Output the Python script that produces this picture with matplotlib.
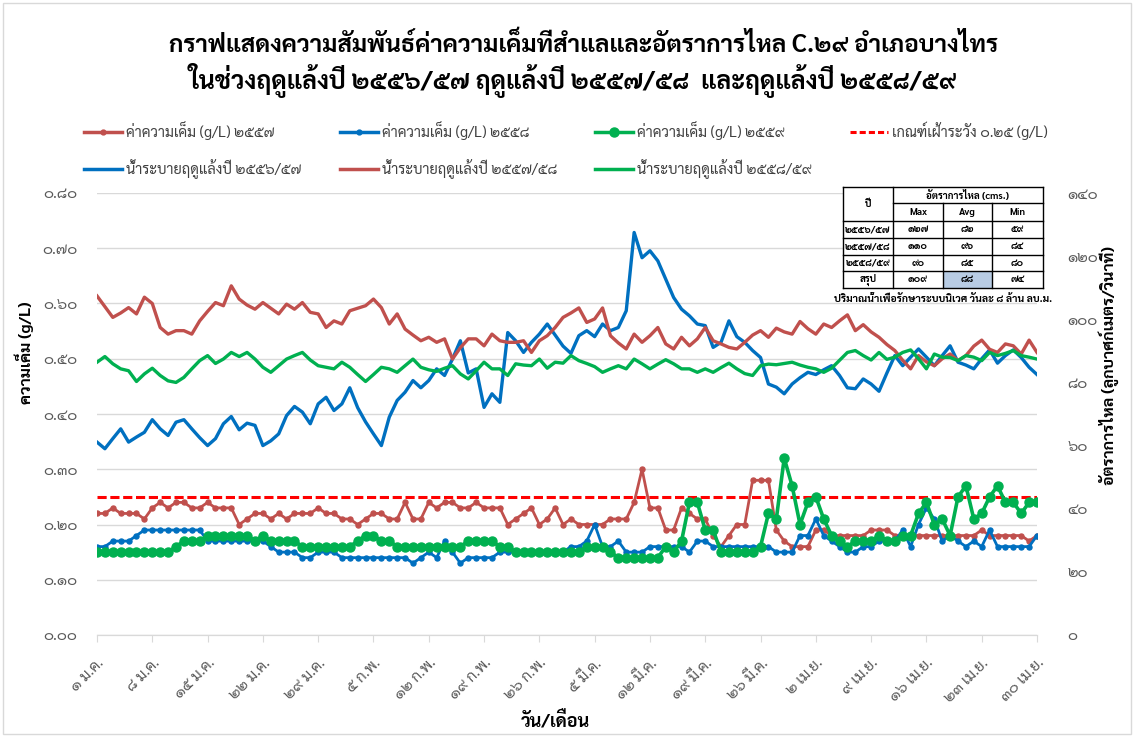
import numpy as np
import matplotlib
matplotlib.use('Agg')
import matplotlib.pyplot as plt
from matplotlib import font_manager as fm
from matplotlib.patches import Rectangle
from matplotlib.lines import Line2D

# ---------------- fonts: look for an installed font with Thai glyphs ----------------
def find_thai_family():
    try:
        from fontTools.ttLib import TTFont
    except Exception:
        return None
    fams = {}
    for f in fm.findSystemFonts():
        try:
            tt = TTFont(f, fontNumber=0, lazy=True)
            cmap = tt.getBestCmap()
            if cmap and ord('ก') in cmap and ord('๑') in cmap:
                fm.fontManager.addfont(f)
                name = fm.FontProperties(fname=f).get_name()
                fams.setdefault(name, []).append(f)
        except Exception:
            pass
    if not fams:
        return None
    prefs = ['Sarabun', 'Noto Sans Thai', 'Loma', 'Garuda', 'Waree', 'Tlwg', 'Kinnari', 'Norasi', 'Thai']
    for p in prefs:
        for n in fams:
            if p.lower() in n.lower():
                return n
    return sorted(fams)[0]

thai = find_thai_family()
fam = ([thai] if thai else []) + ['DejaVu Sans']
plt.rcParams['font.family'] = fam

TH = str.maketrans('0123456789', '๐๑๒๓๔๕๖๗๘๙')
def th(s):
    return str(s).translate(TH)

# ---------------- data ----------------
days = np.arange(120)  # 1 Jan .. 30 Apr
tick_days = list(range(0, 120, 7))
tick_labels = ['๑ ม.ค.', '๘ ม.ค.', '๑๕ ม.ค.', '๒๒ ม.ค.', '๒๙ ม.ค.', '๕ ก.พ.', '๑๒ ก.พ.',
               '๑๙ ก.พ.', '๒๖ ก.พ.', '๕ มี.ค.', '๑๒ มี.ค.', '๑๙ มี.ค.', '๒๖ มี.ค.',
               '๒ เม.ย.', '๙ เม.ย.', '๑๖ เม.ย.', '๒๓ เม.ย.', '๓๐ เม.ย.']

sal_2557 = [0.22, 0.22, 0.23, 0.22, 0.22, 0.22, 0.21, 0.23, 0.24, 0.23,
            0.24, 0.24, 0.23, 0.23, 0.24, 0.23, 0.23, 0.23, 0.20, 0.21,
            0.22, 0.22, 0.21, 0.22, 0.21, 0.22, 0.22, 0.22, 0.23, 0.22,
            0.22, 0.21, 0.21, 0.20, 0.21, 0.22, 0.22, 0.21, 0.21, 0.24,
            0.21, 0.21, 0.24, 0.23, 0.24, 0.24, 0.23, 0.23, 0.24, 0.23,
            0.23, 0.23, 0.20, 0.21, 0.22, 0.23, 0.20, 0.21, 0.23, 0.20,
            0.21, 0.20, 0.20, 0.20, 0.20, 0.21, 0.21, 0.21, 0.24, 0.30,
            0.23, 0.23, 0.19, 0.19, 0.23, 0.22, 0.21, 0.21, 0.18, 0.16,
            0.18, 0.20, 0.20, 0.28, 0.28, 0.28, 0.19, 0.17, 0.16, 0.16,
            0.16, 0.19, 0.19, 0.18, 0.18, 0.18, 0.18, 0.18, 0.19, 0.19,
            0.19, 0.18, 0.18, 0.18, 0.18, 0.18, 0.18, 0.18, 0.18, 0.18,
            0.18, 0.18, 0.19, 0.18, 0.18, 0.18, 0.18, 0.18, 0.17, 0.18]

sal_2558 = [0.16, 0.16, 0.17, 0.17, 0.17, 0.18, 0.19, 0.19, 0.19, 0.19,
            0.19, 0.19, 0.19, 0.19, 0.17, 0.17, 0.17, 0.17, 0.17, 0.17,
            0.17, 0.17, 0.16, 0.15, 0.15, 0.15, 0.14, 0.14, 0.15, 0.15,
            0.15, 0.14, 0.14, 0.14, 0.14, 0.14, 0.14, 0.14, 0.14, 0.14,
            0.13, 0.14, 0.15, 0.14, 0.17, 0.15, 0.13, 0.14, 0.14, 0.14,
            0.14, 0.15, 0.15, 0.15, 0.15, 0.15, 0.15, 0.15, 0.15, 0.15,
            0.16, 0.16, 0.17, 0.20, 0.16, 0.16, 0.17, 0.15, 0.15, 0.15,
            0.16, 0.16, 0.16, 0.16, 0.16, 0.15, 0.17, 0.17, 0.16, 0.16,
            0.16, 0.16, 0.16, 0.16, 0.16, 0.16, 0.15, 0.15, 0.15, 0.18,
            0.18, 0.21, 0.18, 0.17, 0.16, 0.15, 0.15, 0.16, 0.16, 0.17,
            0.17, 0.17, 0.19, 0.16, 0.20, 0.23, 0.21, 0.17, 0.18, 0.17,
            0.16, 0.17, 0.16, 0.19, 0.16, 0.16, 0.16, 0.16, 0.16, 0.18]

sal_2559 = [0.15, 0.15, 0.15, 0.15, 0.15, 0.15, 0.15, 0.15, 0.15, 0.15,
            0.16, 0.17, 0.17, 0.17, 0.18, 0.18, 0.18, 0.18, 0.18, 0.18,
            0.17, 0.18, 0.17, 0.17, 0.17, 0.17, 0.16, 0.16, 0.16, 0.16,
            0.16, 0.16, 0.16, 0.17, 0.18, 0.18, 0.17, 0.17, 0.16, 0.16,
            0.16, 0.16, 0.16, 0.16, 0.16, 0.16, 0.16, 0.17, 0.17, 0.17,
            0.17, 0.16, 0.16, 0.15, 0.15, 0.15, 0.15, 0.15, 0.15, 0.15,
            0.15, 0.15, 0.16, 0.16, 0.16, 0.15, 0.14, 0.14, 0.14, 0.14,
            0.14, 0.14, 0.16, 0.15, 0.17, 0.24, 0.24, 0.19, 0.19, 0.15,
            0.15, 0.15, 0.15, 0.15, 0.16, 0.22, 0.21, 0.32, 0.27, 0.20,
            0.24, 0.25, 0.21, 0.18, 0.17, 0.16, 0.17, 0.17, 0.17, 0.18,
            0.17, 0.17, 0.18, 0.18, 0.22, 0.24, 0.20, 0.21, 0.18, 0.25,
            0.27, 0.21, 0.22, 0.25, 0.27, 0.24, 0.24, 0.22, 0.24, 0.24]

threshold = 0.25

flow_5657 = [61.1, 59, 62.2, 65.3, 61.1, 62.7, 64.2, 68.2, 65.3, 63.2,
             67.4, 68.2, 65.3, 62.5, 60, 62.2, 66.9, 69.2, 65, 67.1,
             66.4, 60, 61.5, 63.7, 69.5, 72.4, 70.6, 66.9, 73.2, 75.3,
             71.1, 73.2, 78.3, 72, 67.5, 63.7, 60, 69, 74.3, 76.9,
             80.6, 78.3, 80.6, 84.3, 82.2, 87.4, 93.2, 83, 84.3, 72.1,
             76.4, 73.7, 95.8, 93.2, 89.5, 92.7, 95.3, 98.5, 95, 91.5,
             89.2, 94.8, 96.4, 94.5, 98.5, 96.4, 97.4, 102.7, 127.5, 119.5,
             121.7, 118.5, 112.7, 106.9, 103.2, 101.1, 98.5, 98, 91.1, 92.7,
             99.5, 94.5, 92.7, 90.1, 87.9, 79.5, 78.5, 76.4, 79.5, 81.5,
             83.2, 82.5, 84, 85.3, 82.2, 78.3, 78, 81.1, 79.5, 77.2,
             83, 88.5, 85.3, 88, 90.6, 88, 85.3, 88.5, 91.6, 86.4,
             85.5, 84.3, 87.5, 90.3, 86.1, 88.5, 90.3, 87.9, 84.8, 82.5]

flow_5758 = [107.4, 104, 100.6, 102, 103.7, 101.7, 107, 105, 97.4, 95.3,
             96.4, 96.4, 95.3, 99.5, 102.5, 105.3, 104.3, 110.6, 106.4, 104.5,
             103.2, 105.3, 103.5, 101.7, 104.8, 103.2, 105.3, 102.2, 101.7, 97.4,
             99.5, 98.5, 102.7, 103.5, 104.3, 106.4, 103.7, 98.5, 101.7, 96.9,
             95, 93.2, 94.3, 92.7, 93.8, 87.4, 91, 93.8, 93.8, 91.6,
             95.3, 93.2, 92.7, 92.7, 93.2, 89.5, 93.2, 94.8, 97.4, 100.6,
             102, 103.6, 99, 100.1, 103.6, 94.8, 92.5, 90.6, 95.3, 92.7,
             94.8, 97.4, 92.2, 90.6, 94.3, 91.6, 93.8, 97.4, 93.2, 92.2,
             91.1, 90.6, 92.7, 95, 96.4, 94.3, 97.2, 96, 95.3, 99.3,
             97, 95.3, 98.5, 97.4, 99.5, 101.4, 96.4, 98.3, 96, 94.3,
             92, 90.1, 87, 84.3, 88.5, 86.5, 85.3, 87.5, 89, 86.9,
             88.5, 91.5, 93.4, 90.5, 89.5, 92.2, 91.6, 89, 93.4, 89.5]

flow_5859 = [86.4, 88.2, 85.9, 84.3, 83.7, 80.3, 82.7, 84.5, 82.2, 80.5,
             80, 81.6, 84.3, 86.9, 88.5, 86, 87.4, 89.5, 88.2, 89.5,
             87.4, 84.8, 83.2, 85.3, 87.4, 88.5, 89.5, 87.1, 85.3, 84.8,
             84.3, 86.4, 84.8, 82.5, 80.3, 82.5, 84.8, 84.3, 83.2, 85.3,
             87.4, 84.8, 84, 83.5, 84.5, 85.3, 82.7, 81.1, 83.7, 86.4,
             84.3, 84.3, 82.2, 85.9, 85.5, 85.3, 87.4, 84.5, 86.4, 86.1,
             88.5, 86.9, 86, 85, 83.2, 84.3, 85.3, 84.3, 87.4, 85.9,
             84.3, 85.8, 87.2, 85.9, 84.3, 84.3, 83.2, 84.3, 83.2, 84.7,
             86.1, 84.3, 82.8, 82.2, 85.3, 85.8, 85.6, 86, 86.4, 85.5,
             84.8, 84.3, 83.2, 84.5, 87, 89.5, 90.1, 88.5, 87.1, 89.5,
             87.3, 88, 89.5, 90.3, 87.5, 84.3, 89, 88, 87.9, 86.9,
             88.5, 88, 86.9, 89.5, 88.5, 89.2, 90.1, 88.5, 88, 87.4]

# summary table
table_years = ['๒๕๕๖/๕๗', '๒๕๕๗/๕๘', '๒๕๕๘/๕๙', 'สรุป']
table_max = [127, 110, 90, 109]
table_avg = [82, 96, 85, 88]
table_min = [59, 84, 80, 74]

# ---------------- styling ----------------
C_RED = '#C0504D'
C_BLUE = '#0070C0'
C_GREEN = '#00B050'
C_THR = '#FF0000'
C_GRID = '#D9D9D9'
C_TXT = '#595959'

W, H = 1134, 737
fig = plt.figure(figsize=(W / 100, H / 100), dpi=100)
L, R, T, B = 97, 1037, 193, 635
ax = fig.add_axes([L / W, 1 - B / H, (R - L) / W, (B - T) / H])
ax2 = ax.twinx()

def xs(s):
    return days[:len(s)]

# salinity (left axis)
ax.plot(days, [threshold] * len(days), color=C_THR, lw=2.2, dashes=(3, 1.2), zorder=2)
ax.plot(xs(sal_2557), sal_2557, color=C_RED, lw=2.0, marker='o', ms=3.6, zorder=3)
ax.plot(xs(sal_2558), sal_2558, color=C_BLUE, lw=2.0, marker='o', ms=3.6, zorder=3)
ax.plot(xs(sal_2559), sal_2559, color=C_GREEN, lw=2.6, marker='o', ms=6.5, zorder=4)

# flow (right axis)
ax2.plot(xs(flow_5657), flow_5657, color=C_BLUE, lw=2.4, solid_joinstyle='round')
ax2.plot(xs(flow_5758), flow_5758, color=C_RED, lw=2.4, solid_joinstyle='round')
ax2.plot(xs(flow_5859), flow_5859, color=C_GREEN, lw=2.4, solid_joinstyle='round')

ax.set_xlim(0, 119)
ax.set_ylim(0, 0.8)
ax2.set_ylim(0, 140)

yt = np.round(np.arange(0, 0.81, 0.1), 2)
ax.set_yticks(yt)
ax.set_yticklabels([th(f'{v:.2f}') for v in yt], color=C_TXT, fontsize=11)
yt2 = list(range(0, 141, 20))
ax2.set_yticks(yt2)
ax2.set_yticklabels([th(v) for v in yt2], color=C_TXT, fontsize=11)

ax.set_xticks(tick_days)
ax.set_xticklabels(tick_labels, rotation=45, ha='right', va='top',
                   rotation_mode='anchor', color=C_TXT, fontsize=11)

ax.grid(axis='y', color=C_GRID, lw=1)
ax.set_axisbelow(True)
for a in (ax, ax2):
    for s in ('top', 'left', 'right'):
        a.spines[s].set_visible(False)
    a.spines['bottom'].set_color(C_GRID)
ax.tick_params(axis='y', length=0, pad=14)
ax2.tick_params(axis='y', length=0, pad=22)
ax.tick_params(axis='x', length=5, color=C_GRID, pad=10)

# axis titles
fig.text(24 / W, 1 - 353 / H, 'ความเค็ม (g/L)', rotation=90, ha='center', va='center',
         fontsize=11.5, fontweight='bold')
fig.text(1109 / W, 1 - 366 / H, 'อัตราการไหล (ลูกบาศก์เมตร/วินาที)', rotation=90,
         ha='center', va='center', fontsize=11.5, fontweight='bold')
fig.text(555 / W, 1 - 722 / H, 'วัน/เดือน', ha='center', va='center',
         fontsize=13, fontweight='bold')

# title
fig.text(584 / W, 1 - 45 / H,
         'กราฟแสดงความสัมพันธ์ค่าความเค็มที่สำแลและอัตราการไหล C.๒๙ อำเภอบางไทร',
         ha='center', va='center', fontsize=17.5, fontweight='bold')
fig.text(573 / W, 1 - 80 / H,
         'ในช่วงฤดูแล้งปี ๒๕๕๖/๕๗ ฤดูแล้งปี ๒๕๕๗/๕๘  และฤดูแล้งปี ๒๕๕๘/๕๙',
         ha='center', va='center', fontsize=18, fontweight='bold')

# legend (row-major order emulated with column-major fill)
h_s57 = Line2D([], [], color=C_RED, lw=2.5, marker='o', ms=3.5)
h_s58 = Line2D([], [], color=C_BLUE, lw=2.5, marker='o', ms=3.5)
h_s59 = Line2D([], [], color=C_GREEN, lw=2.5, marker='o', ms=6.5)
h_thr = Line2D([], [], color=C_THR, lw=2.2, dashes=(2, 1))
h_f1 = Line2D([], [], color=C_BLUE, lw=2.5)
h_f2 = Line2D([], [], color=C_RED, lw=2.5)
h_f3 = Line2D([], [], color=C_GREEN, lw=2.5)
handles = [h_s57, h_f1, h_s58, h_f2, h_s59, h_f3, h_thr]
labels = ['ค่าความเค็ม (g/L) ๒๕๕๗', 'น้ำระบายฤดูแล้งปี ๒๕๕๖/๕๗',
          'ค่าความเค็ม (g/L) ๒๕๕๘', 'น้ำระบายฤดูแล้งปี ๒๕๕๗/๕๘',
          'ค่าความเค็ม (g/L) ๒๕๕๙', 'น้ำระบายฤดูแล้งปี ๒๕๕๘/๕๙',
          'เกณฑ์เฝ้าระวัง ๐.๒๕ (g/L)']
leg = fig.legend(handles, labels, ncol=4, loc='upper left',
                 bbox_to_anchor=(71 / W, 1 - 108 / H), frameon=False,
                 fontsize=10.5, handlelength=2.6, handletextpad=0.3,
                 columnspacing=2.6, labelspacing=1.3)
for t in leg.get_texts():
    t.set_color('#404040')

# summary table overlay (figure pixel coordinates)
axt = fig.add_axes([0, 0, 1, 1], zorder=10)
axt.set_xlim(0, W)
axt.set_ylim(H, 0)
axt.axis('off')
cx = [843, 893, 943, 992, 1043]
ry = [187, 203, 221, 238, 255, 271, 288]
axt.add_patch(Rectangle((cx[0], ry[0]), cx[-1] - cx[0], ry[-1] - ry[0],
                        facecolor='white', edgecolor='none'))
axt.add_patch(Rectangle((cx[2], ry[5]), cx[3] - cx[2], ry[6] - ry[5],
                        facecolor='#B8CCE4', edgecolor='none'))
lk = dict(color='black', lw=1.0)
axt.plot([cx[0], cx[-1]], [ry[0], ry[0]], **lk)
axt.plot([cx[1], cx[-1]], [ry[1], ry[1]], **lk)
for yy in ry[2:]:
    axt.plot([cx[0], cx[-1]], [yy, yy], **lk)
axt.plot([cx[0], cx[0]], [ry[0], ry[-1]], **lk)
axt.plot([cx[1], cx[1]], [ry[0], ry[-1]], **lk)
axt.plot([cx[2], cx[2]], [ry[1], ry[-1]], **lk)
axt.plot([cx[3], cx[3]], [ry[1], ry[-1]], **lk)
axt.plot([cx[4], cx[4]], [ry[0], ry[-1]], **lk)
tk = dict(ha='center', va='center', fontsize=7, fontweight='bold', color='black')
axt.text((cx[0] + cx[1]) / 2, (ry[0] + ry[2]) / 2, 'ปี', **tk)
axt.text((cx[1] + cx[4]) / 2, (ry[0] + ry[1]) / 2, 'อัตราการไหล (cms.)', **tk)
for j, hd in enumerate(['Max', 'Avg', 'Min']):
    axt.text((cx[j + 1] + cx[j + 2]) / 2, (ry[1] + ry[2]) / 2, hd, **tk)
for i, yr in enumerate(table_years):
    yc = (ry[i + 2] + ry[i + 3]) / 2
    axt.text((cx[0] + cx[1]) / 2, yc, yr, **tk)
    for j, col in enumerate([table_max, table_avg, table_min]):
        axt.text((cx[j + 1] + cx[j + 2]) / 2, yc, th(col[i]), **tk)
axt.text(943, 299, 'ปริมาณน้ำเพื่อรักษาระบบนิเวศ วันละ ๘ ล้าน ลบ.ม.',
         ha='center', va='center', fontsize=7.5, fontweight='bold', color='black')

# outer chart border
fig.patches.append(Rectangle((3 / W, 3 / H), 1 - 6 / W, 1 - 6 / H,
                             transform=fig.transFigure, fill=False,
                             edgecolor=C_GRID, lw=1))

fig.savefig('out.png', dpi=100)
